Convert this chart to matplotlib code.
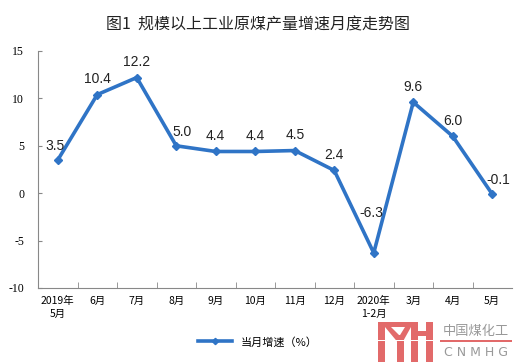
import matplotlib
matplotlib.use('Agg')
import matplotlib.pyplot as plt
from matplotlib.patches import Rectangle, Polygon

# 数据：规模以上工业原煤产量当月增速（%）
months = ['2019年\n5月', '6月', '7月', '8月', '9月', '10月', '11月', '12月',
          '2020年\n1-2月', '3月', '4月', '5月']
growth = [3.5, 10.4, 12.2, 5.0, 4.4, 4.4, 4.5, 2.4, -6.3, 9.6, 6.0, -0.1]
y_ticks = [-10, -5, 0, 5, 10, 15]

CJK = ['Noto Sans CJK SC', 'DejaVu Sans']
BLUE = '#2F74C6'
W, H = 515, 362

fig = plt.figure(figsize=(W / 100, H / 100), dpi=100)
ax = fig.add_axes([38 / W, 1 - 288 / H, (512 - 38) / W, (288 - 51) / H])

x = list(range(len(growth)))
ax.plot(x, growth, color=BLUE, lw=2.6, marker='D', ms=4, mfc=BLUE, mec=BLUE,
        label='当月增速（%）', solid_joinstyle='miter')

# 数据标签偏移（点）
offsets = {0: (-2, 5), 3: (4, 5), 8: (-2, 24), 11: (4, 5)}
for i, v in enumerate(growth):
    dx, dy = offsets.get(i, (0, 6))
    ax.annotate(f'{v:.1f}', (i, v), xytext=(dx, dy), textcoords='offset points',
                ha='center', va='bottom', fontsize=10, family='Liberation Sans',
                color='#222222')

ax.set_xlim(-0.5, len(growth) - 0.5)
ax.set_ylim(-10, 15)
ax.set_yticks(y_ticks)
ax.set_yticklabels([str(t) for t in y_ticks], family='Liberation Serif', fontsize=8.5)
ax.set_xticks(x)
ax.set_xticklabels(months, family=CJK, fontsize=7.5, linespacing=1.3)
ax.set_xticks([i + 0.5 for i in x[:-1]], minor=True)
ax.tick_params(axis='x', which='major', length=0, pad=6)
ax.tick_params(axis='x', which='minor', length=4, direction='in', color='#888888')
ax.tick_params(axis='y', length=3, direction='in', color='#888888', pad=10)
for s in ['top', 'right']:
    ax.spines[s].set_visible(False)
for s in ['left', 'bottom']:
    ax.spines[s].set_color('#888888')
    ax.spines[s].set_linewidth(0.8)

fig.text(0.5, 1 - 25 / H, '图1  规模以上工业原煤产量增速月度走势图', ha='center', va='center',
         family=CJK, fontsize=11.5, fontweight='medium', color='#222222')

leg = ax.legend(loc='center', bbox_to_anchor=(258 / W, 1 - 342 / H),
                bbox_transform=fig.transFigure, frameon=False,
                prop={'family': CJK, 'size': 8}, handlelength=3.0, markerscale=0.8)

# 水印 logo
RED = '#E26A6A'


def fr(x0, y0, x1, y1):
    return Rectangle((x0 / W, 1 - y1 / H), (x1 - x0) / W, (y1 - y0) / H,
                     transform=fig.transFigure, color=RED, lw=0)


for r in [fr(378, 322, 385, 362), fr(378, 322, 418, 327), fr(397, 335, 404, 362),
          fr(411, 322, 418, 362), fr(418, 331, 427, 336), fr(426, 322, 433, 362)]:
    fig.patches.append(r)
for pts in [[(385, 327), (391, 327), (404, 340), (400, 345)],
            [(411, 327), (405, 327), (397, 340), (401, 345)]]:
    fig.patches.append(Polygon([(px / W, 1 - py / H) for px, py in pts],
                               transform=fig.transFigure, color=RED, lw=0))
fig.patches.append(Rectangle((376 / W, 1 - 341 / H), 60 / W, 1.5 / H,
                             transform=fig.transFigure, color='white', lw=0))
fig.patches.append(Rectangle((440 / W, 1 - 341.5 / H), 72 / W, 1.2 / H,
                             transform=fig.transFigure, color=RED, lw=0))
fig.text(476 / W, 1 - 331 / H, '中国煤化工', ha='center', va='center', family=CJK,
         fontsize=9.5, color='#999999')
fig.text(476 / W, 1 - 353 / H, 'C N M H G', ha='center', va='center',
         family='DejaVu Sans', fontsize=9, color='#999999')

fig.savefig('out.png', dpi=100)
